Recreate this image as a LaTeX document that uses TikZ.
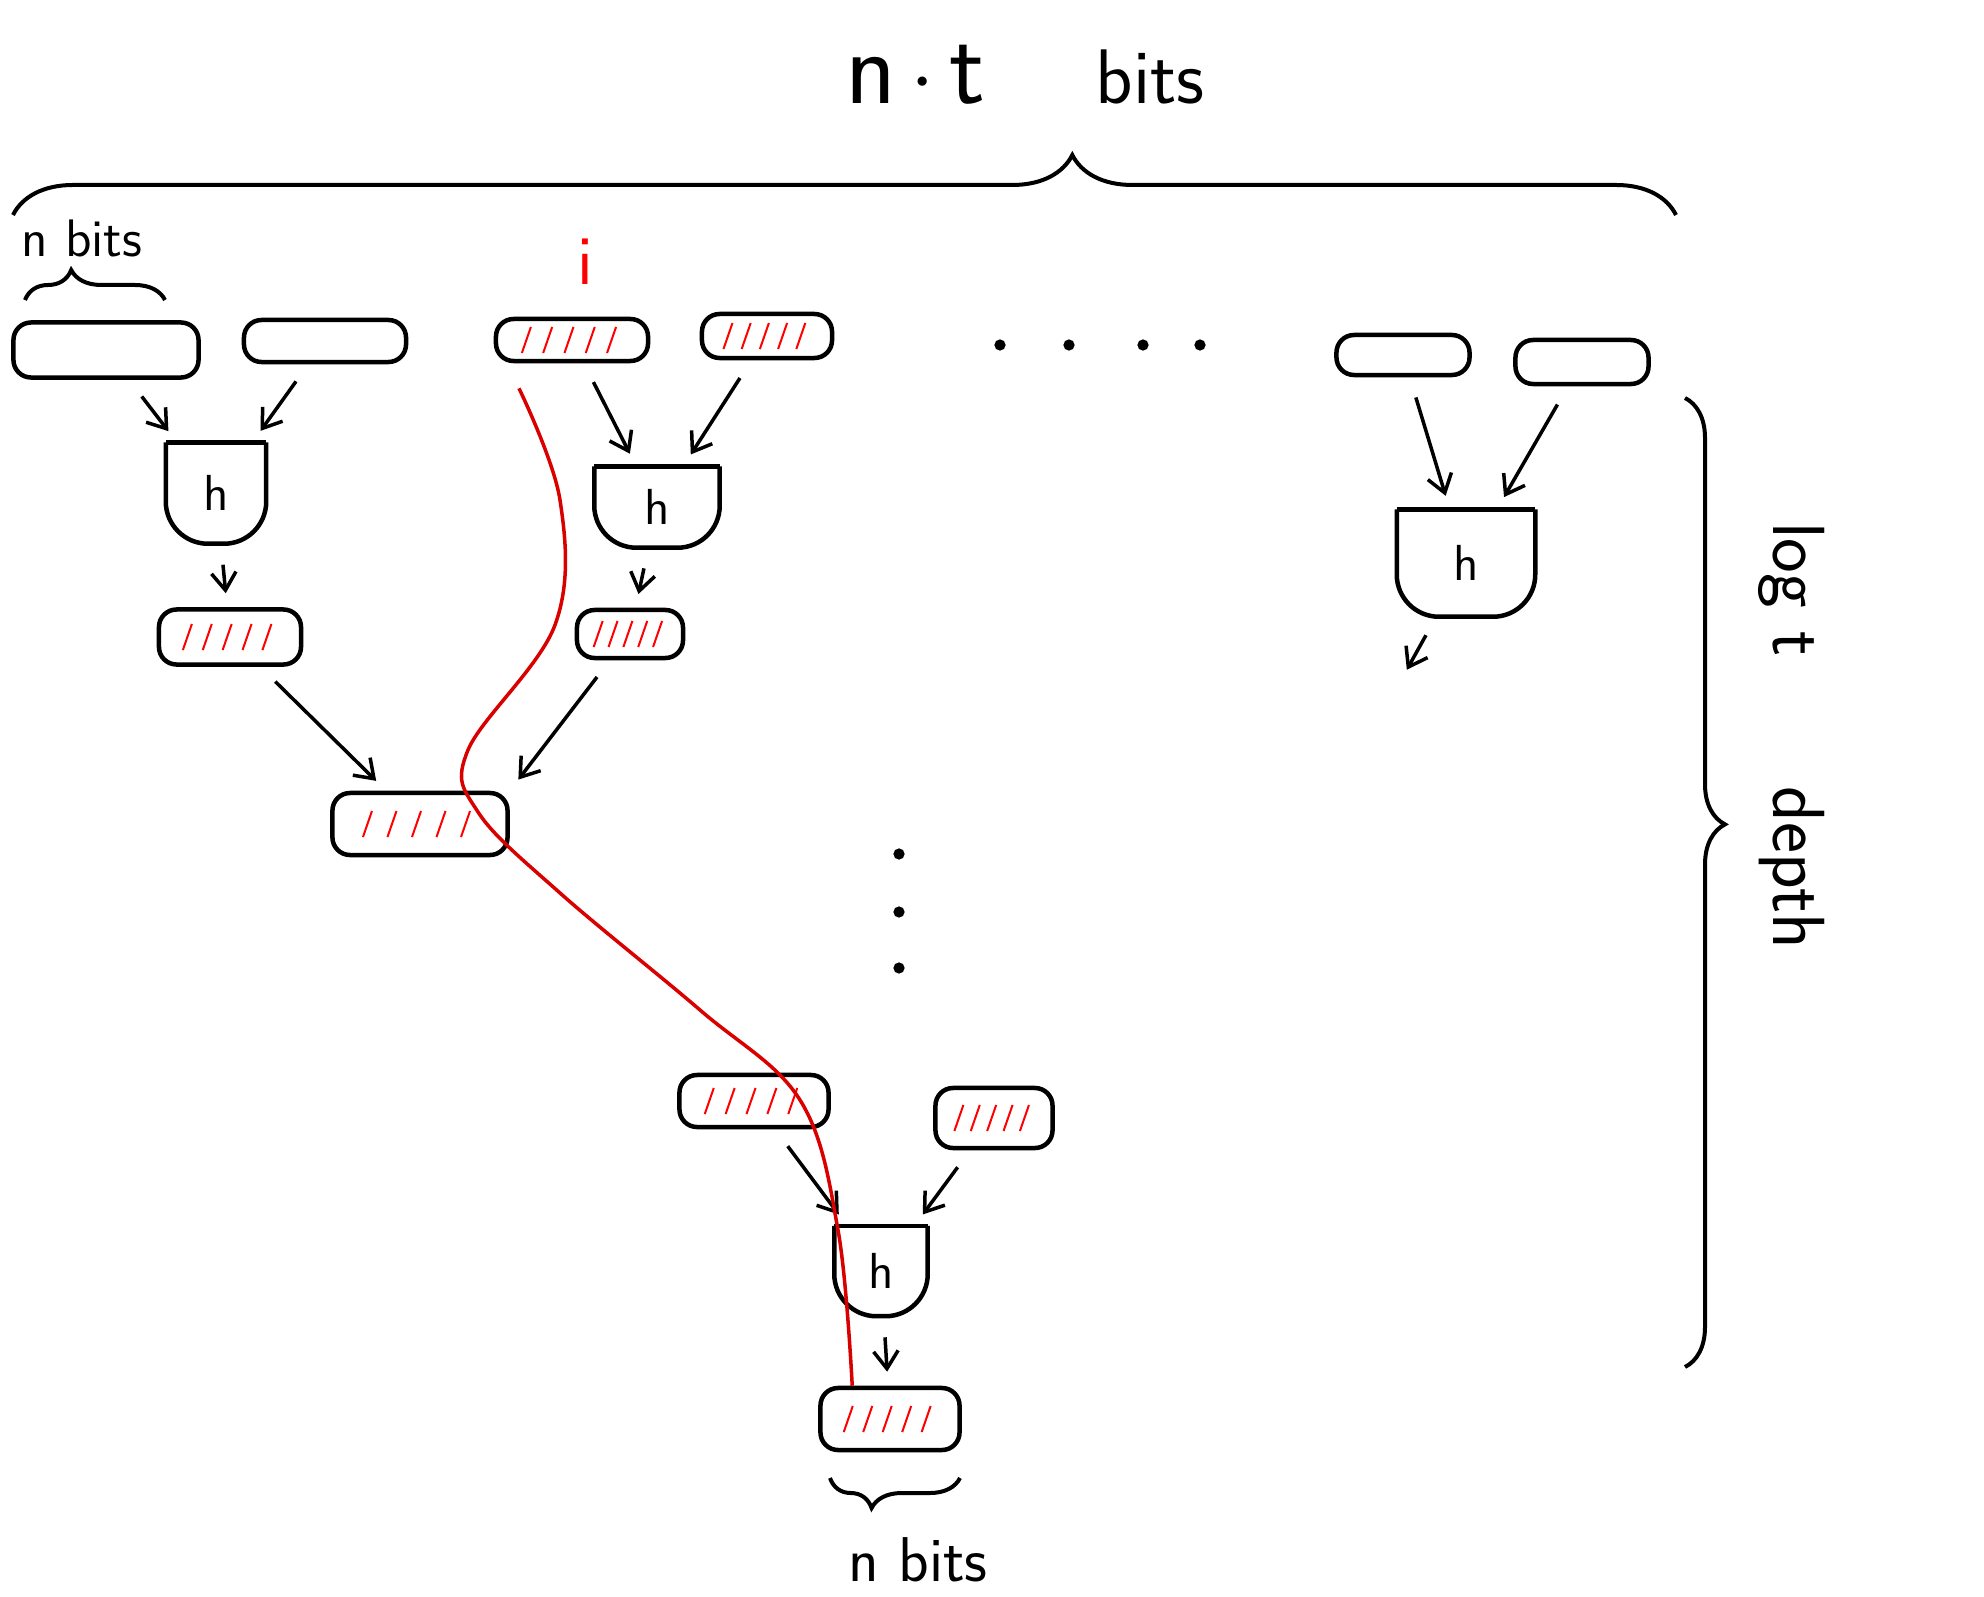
\documentclass[tikz,border=0pt]{standalone}
\usepackage{tikz}
\usetikzlibrary{positioning}
\usetikzlibrary{calc}
\usetikzlibrary{arrows.meta}
\usetikzlibrary{decorations.pathreplacing}
\tikzset{
    cell/.style = {draw, line width=0.45mm, rounded corners=5pt, inner sep=0pt},
    marked/.style = {cell, path picture={
        \foreach \k in {0.2,0.34,0.48,0.62,0.76} {
            \draw [red, line width=0.2mm] ($(path picture bounding box.west)!\k!(path picture bounding box.east)$)
                +(-0.45mm,-1.3mm) -- +(0.45mm,1.3mm);
        }}},
    hashcup/.style = {inner sep=0pt, font=\sffamily\Large},
    cupline/.style = {line width=0.45mm},
    link/.style = {-{Straight Barb[length=5pt,width=7pt]}, line width=0.35mm, shorten <=6pt, shorten >=4pt},
    trail/.style = {red!85!black, line width=0.35mm},
    span/.style = {decorate, line width=0.4mm},
    hand/.style = {font=\sffamily}
}
\begin{document}
\begin{tikzpicture}[x=0.01cm, y=-0.01cm]
    \useasboundingbox (0,0) rectangle (1984,1597);
    % labels
    \node [hand, font=\sffamily\fontsize{30}{36}\selectfont] (total) at (1025,75) {n$\,\cdot\,$t\hspace{1.1cm}{\fontsize{22}{26}\selectfont bits}};
    \node [hand, font=\sffamily\fontsize{15}{18}\selectfont] (leafbits) at (82,238) {n bits};
    \node [hand, font=\sffamily\fontsize{20}{24}\selectfont, text=red] (idx) at (585,262) {i};
    \node [hand, font=\sffamily\fontsize{18}{22}\selectfont] (rootbits) at (918,1560) {n bits};
    \node [hand, font=\sffamily\fontsize{21}{25}\selectfont, rotate=-90] (depth) at (1792,736) {log t\hspace{1.3cm}depth};
    % leaves
    \node [cell, minimum width=1.85cm, minimum height=0.55cm] (l1) at (106,350) {};
    \node [cell, minimum width=1.62cm, minimum height=0.42cm] (l2) at (325,341) {};
    \node [marked, minimum width=1.52cm, minimum height=0.42cm] (l3) at (572,340) {};
    \node [marked, minimum width=1.30cm, minimum height=0.44cm] (l4) at (767,336) {};
    \node [cell, minimum width=1.33cm, minimum height=0.40cm] (l5) at (1403,355) {};
    \node [cell, minimum width=1.33cm, minimum height=0.44cm] (l6) at (1582,362) {};
    % hash functions
    \node [hashcup, minimum width=0.99cm, minimum height=1.00cm] (h1) at (216,493) {h};
    \node [hashcup, minimum width=1.24cm, minimum height=0.80cm] (h2) at (657,507) {h};
    \node [hashcup, minimum width=1.37cm, minimum height=1.06cm] (h3) at (1466,563) {h};
    \node [hashcup, minimum width=0.92cm, minimum height=0.89cm] (h4) at (881,1271) {h};
    \foreach \h in {h1,h2,h3,h4} {
        \draw [cupline] (\h.north west) -- (\h.north east);
        \draw [cupline, rounded corners=12pt] (\h.north west) -- (\h.south west) -- (\h.south east) -- (\h.north east);
    }
    % inner nodes
    \node [marked, minimum width=1.42cm, minimum height=0.55cm] (n1) at (230,637) {};
    \node [marked, minimum width=1.06cm, minimum height=0.48cm] (n2) at (630,634) {};
    \node [marked, minimum width=1.75cm, minimum height=0.62cm] (n3) at (420,824) {};
    \node [marked, minimum width=1.49cm, minimum height=0.52cm] (n4) at (754,1101) {};
    \node [marked, minimum width=1.17cm, minimum height=0.60cm] (n5) at (994,1118) {};
    \node [marked, minimum width=1.39cm, minimum height=0.62cm] (root) at (890,1419) {};
    \coordinate (h3out) at (1400,682);
    % edges
    \draw [link] (l1) -- (h1);
    \draw [link] (l2) -- (h1);
    \draw [link] (l3) -- (h2);
    \draw [link] (l4) -- (h2);
    \draw [link] (h1) -- (n1);
    \draw [link] (h2) -- (n2);
    \draw [link] (n1) -- (n3);
    \draw [link] (n2) -- (n3.north east);
    \draw [link] (l5) -- (h3);
    \draw [link] (l6) -- (h3);
    \draw [link] (h3) -- (h3out);
    \draw [link] (n4) -- (h4);
    \draw [link] (n5) -- (h4);
    \draw [link] (h4) -- (root);
    % dots
    \foreach \x in {1000,1069,1143,1200} \fill (\x,345) circle (1.6pt);
    \foreach \y in {854,912,968} \fill (899,\y) circle (1.6pt);
    % braces
    \draw [span, decoration={brace, amplitude=0.6cm, aspect=0.637}] (13,215) -- (1676,215);
    \draw [span, decoration={brace, amplitude=0.3cm, aspect=0.33}] (25,300) -- (165,300);
    \draw [span, decoration={brace, amplitude=0.3cm, aspect=0.68}] (960,1478) -- (830,1478);
    \draw [span, decoration={brace, amplitude=0.4cm, aspect=0.44}] (1685,398) -- (1685,1367);
    % path from leaf i to root
    \coordinate (w1) at (560,500);
    \coordinate (w2) at (555,625);
    \coordinate (w3) at (468,750);
    \coordinate (w4) at (478,812);
    \coordinate (w5) at (560,893);
    \coordinate (w6) at (700,1010);
    \coordinate (w7) at (800,1100);
    \coordinate (w8) at (838,1230);
    \draw [trail] plot [smooth, tension=0.6] coordinates {([shift={(-0.53cm,-0.25cm)}]l3.south) (w1) (w2) (w3) (w4) (w5) (w6) (w7) (w8) ([xshift=0.34cm]root.north west)};
\end{tikzpicture}
\end{document}
